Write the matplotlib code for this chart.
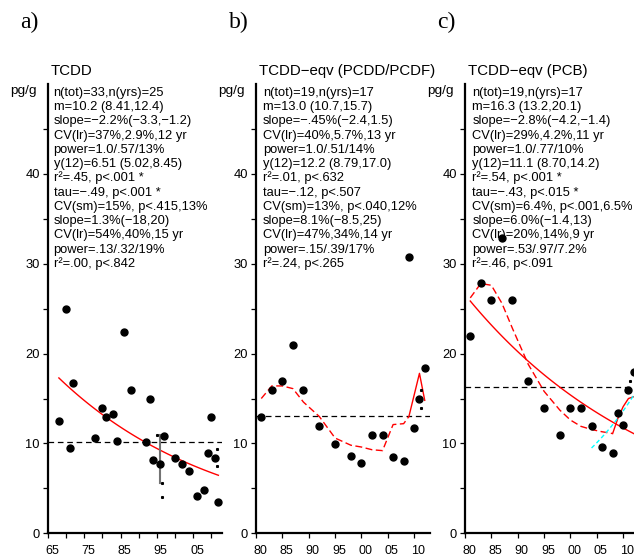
import numpy as np
import matplotlib
matplotlib.use('Agg')
import matplotlib.pyplot as plt
from matplotlib.transforms import ScaledTranslation

plt.rcParams['font.family'] = ['Liberation Sans', 'DejaVu Sans']

# ---- data ----
# a) TCDD
a_years = [1968, 1970, 1971, 1972, 1978, 1980, 1981, 1983, 1984, 1986, 1988, 1992, 1993,
           1994, 1996, 1997, 2000, 2002, 2004, 2006, 2008, 2009, 2010, 2011, 2012]
a_vals = [12.5, 25.0, 9.45, 16.7, 10.55, 13.95, 12.95, 13.25, 10.25, 22.4, 15.9, 10.15, 14.95,
          8.15, 7.7, 10.85, 8.4, 7.75, 6.96, 4.15, 4.85, 8.9, 12.95, 8.37, 3.5]
a_mean = 10.2

# b) TCDD-eqv (PCDD/PCDF)
b_years = [1981, 1983, 1985, 1987, 1989, 1992, 1995, 1998, 2000, 2002, 2004, 2006, 2008,
           2009, 2010, 2011, 2012]
b_vals = [12.96, 15.9, 16.9, 20.9, 15.9, 11.9, 9.9, 8.6, 7.85, 10.9, 10.9, 8.5, 8.1,
          30.8, 11.75, 14.9, 18.4]
b_mean = 13.0
b_smooth_years = [1981, 1983, 1985, 1987, 1989, 1992, 1995, 1998, 2000, 2002, 2004, 2006, 2008, 2009]
b_smooth_vals = [15.0, 16.4, 16.4, 16.1, 14.6, 13.0, 10.6, 9.8, 9.6, 9.3, 9.2, 12.1, 12.2, 13.0]
b_tail_years = [2009, 2010, 2011, 2012]
b_tail_vals = [13.0, 15.4, 17.8, 14.8]

# c) TCDD-eqv (PCB)
c_years = [1981, 1983, 1985, 1987, 1989, 1992, 1995, 1998, 2000, 2002, 2004, 2006, 2008,
           2009, 2010, 2011, 2012]
c_vals = [22.0, 27.9, 26.0, 32.85, 26.0, 16.9, 13.96, 10.96, 13.96, 13.96, 11.96, 9.63, 8.96,
          13.4, 12.1, 15.9, 17.96]
c_mean = 16.3
c_smooth_years = [1981, 1983, 1985, 1987, 1989, 1992, 1995, 1998, 2000, 2002, 2004, 2006, 2008]
c_smooth_vals = [26.2, 27.8, 27.6, 25.6, 22.8, 18.8, 15.8, 13.7, 12.6, 11.9, 11.55, 11.3, 11.1]
c_tail_years = [2008, 2009, 2010, 2011, 2012]
c_tail_vals = [11.1, 12.8, 14.1, 15.0, 15.2]
c_recent_from = 2004

# small range marks (error bars) seen in the plots
a_bar_year, a_bar_lo, a_bar_hi = 1996, 5.55, 10.9
a_dot_x = [1995.1, 1996.4, 1996.4, 2011.5, 2011.5]
a_dot_y = [10.9, 5.55, 4.07, 9.33, 7.48]
b_dot_x = [2011.3, 2011.3]
b_dot_y = [16.0, 13.96]
c_dot_x = [2011.3]
c_dot_y = [16.96]

titles = ['TCDD', 'TCDD\u2212eqv (PCDD/PCDF)', 'TCDD\u2212eqv (PCB)']
letters = ['a)', 'b)', 'c)']

a_text = ['n(tot)=33,n(yrs)=25', 'm=10.2 (8.41,12.4)', 'slope=\u22122.2%(\u22123.3,\u22121.2)',
          'CV(lr)=37%,2.9%,12 yr', 'power=1.0/.57/13%', 'y(12)=6.51 (5.02,8.45)',
          'r\u00b2=.45, p<.001 *', 'tau=\u2212.49, p<.001 *', 'CV(sm)=15%, p<.415,13%',
          'slope=1.3%(\u221218,20)', 'CV(lr)=54%,40%,15 yr', 'power=.13/.32/19%',
          'r\u00b2=.00, p<.842']
b_text = ['n(tot)=19,n(yrs)=17', 'm=13.0 (10.7,15.7)', 'slope=\u2212.45%(\u22122.4,1.5)',
          'CV(lr)=40%,5.7%,13 yr', 'power=1.0/.51/14%', 'y(12)=12.2 (8.79,17.0)',
          'r\u00b2=.01, p<.632', 'tau=\u2212.12, p<.507', 'CV(sm)=13%, p<.040,12%',
          'slope=8.1%(\u22128.5,25)', 'CV(lr)=47%,34%,14 yr', 'power=.15/.39/17%',
          'r\u00b2=.24, p<.265']
c_text = ['n(tot)=19,n(yrs)=17', 'm=16.3 (13.2,20.1)', 'slope=\u22122.8%(\u22124.2,\u22121.4)',
          'CV(lr)=29%,4.2%,11 yr', 'power=1.0/.77/10%', 'y(12)=11.1 (8.70,14.2)',
          'r\u00b2=.54, p<.001 *', 'tau=\u2212.43, p<.015 *', 'CV(sm)=6.4%, p<.001,6.5%',
          'slope=6.0%(\u22121.4,13)', 'CV(lr)=20%,14%,9 yr', 'power=.53/.97/7.2%',
          'r\u00b2=.46, p<.091']

# ---- layout (pixels) ----
W, H = 634, 559
fig = plt.figure(figsize=(W / 100, H / 100), dpi=100)
lefts = [48, 256, 465]
ax_w = 174
bottom_px, top_px = 533.3, 84


def make_axes(left, xmin, ticks, ticklabels):
    ax = fig.add_axes([left / W, (H - bottom_px) / H, ax_w / W, (bottom_px - top_px) / H])
    ax.set_xlim(xmin, 2013)
    ax.set_ylim(0, 50)
    for s in ['top', 'right']:
        ax.spines[s].set_visible(False)
    for s in ['left', 'bottom']:
        ax.spines[s].set_linewidth(1.6)
    ax.set_yticks(np.arange(0, 46, 5))
    ax.set_yticklabels(['0', '', '10', '', '20', '', '30', '', '40', ''])
    ax.set_xticks(ticks)
    ax.set_xticklabels(ticklabels)
    ax.tick_params(axis='both', direction='out', length=3.6, width=0.9, labelsize=9.3)
    ax.tick_params(axis='y', pad=2.2)
    ax.tick_params(axis='x', pad=4.5, labelsize=9.0)
    for lab in ax.get_xticklabels():
        lab.set_transform(lab.get_transform() + ScaledTranslation(0.04, 0, fig.dpi_scale_trans))
    return ax


def log_fit(ax, years, vals, color, ls):
    yrs = np.array(years, dtype=float)
    k, b = np.polyfit(yrs, np.log(vals), 1)
    xx = np.linspace(yrs.min(), yrs.max(), 100)
    ax.plot(xx, np.exp(k * xx + b), color=color, lw=1.0, ls=ls, zorder=2)


def stats_text(ax, lines, dx):
    for i, s in enumerate(lines):
        ax.text(dx / ax_w, 48.68 - 1.585 * i, s, transform=ax.get_yaxis_transform(),
                fontsize=9.25, va='baseline', ha='left', zorder=1)


ax_a = make_axes(lefts[0], 1965, np.arange(1965, 2011, 5),
                 ['65', '', '75', '', '85', '', '95', '', '05', ''])
ax_b = make_axes(lefts[1], 1980, np.arange(1980, 2011, 5),
                 ['80', '85', '90', '95', '00', '05', '10'])
ax_c = make_axes(lefts[2], 1980, np.arange(1980, 2011, 5),
                 ['80', '85', '90', '95', '00', '05', '10'])

dash_mean = (0, (4.5, 3))
dash_red = (0, (5, 2.5))

# a)
stats_text(ax_a, a_text, 5.5)
ax_a.axhline(a_mean, color='black', lw=0.9, ls=dash_mean, zorder=2)
log_fit(ax_a, a_years, a_vals, 'red', '-')
ax_a.plot([a_bar_year, a_bar_year], [a_bar_lo, a_bar_hi], color='0.45', lw=1.5, zorder=2)
ax_a.plot(a_dot_x, a_dot_y, 's', color='black', ms=1.2, ls='none', zorder=3)
ax_a.plot(a_years, a_vals, 'o', color='black', ms=5, ls='none', zorder=4, clip_on=False)

# b)
stats_text(ax_b, b_text, 7)
ax_b.axhline(b_mean, color='black', lw=0.9, ls=dash_mean, zorder=2)
ax_b.plot(b_smooth_years, b_smooth_vals, color='red', lw=1.0, ls=dash_red, zorder=2)
ax_b.plot(b_tail_years, b_tail_vals, color='red', lw=1.0, zorder=2)
ax_b.plot(b_dot_x, b_dot_y, 's', color='black', ms=1.2, ls='none', zorder=3)
ax_b.plot(b_years, b_vals, 'o', color='black', ms=5, ls='none', zorder=4, clip_on=False)

# c)
stats_text(ax_c, c_text, 7.5)
ax_c.axhline(c_mean, color='black', lw=0.9, ls=dash_mean, zorder=2)
log_fit(ax_c, c_years, c_vals, 'red', '-')
ax_c.plot(c_smooth_years, c_smooth_vals, color='red', lw=1.0, ls=dash_red, zorder=2)
ax_c.plot(c_tail_years, c_tail_vals, color='red', lw=1.0, zorder=2)
rec = [i for i, y in enumerate(c_years) if y >= c_recent_from]
log_fit(ax_c, [c_years[i] for i in rec], [c_vals[i] for i in rec], 'cyan', (0, (3, 2)))
ax_c.plot(c_dot_x, c_dot_y, 's', color='black', ms=1.2, ls='none', zorder=3)
ax_c.plot(c_years, c_vals, 'o', color='black', ms=5, ls='none', zorder=4)

# titles, units and panel letters
for left, title, letter in zip(lefts, titles, letters):
    fig.text((left + 3) / W, (H - 75) / H, title, fontsize=10.8, va='baseline', ha='left')
    fig.text((left - 24.5) / W, (H - 94) / H, 'pg/g', fontsize=9.7, va='baseline', ha='center')
    fig.text((left - 27.5) / W, (H - 28) / H, letter, fontsize=17,
             family=['Liberation Serif', 'DejaVu Serif'], va='baseline', ha='left')

fig.savefig('out.png', dpi=100)
